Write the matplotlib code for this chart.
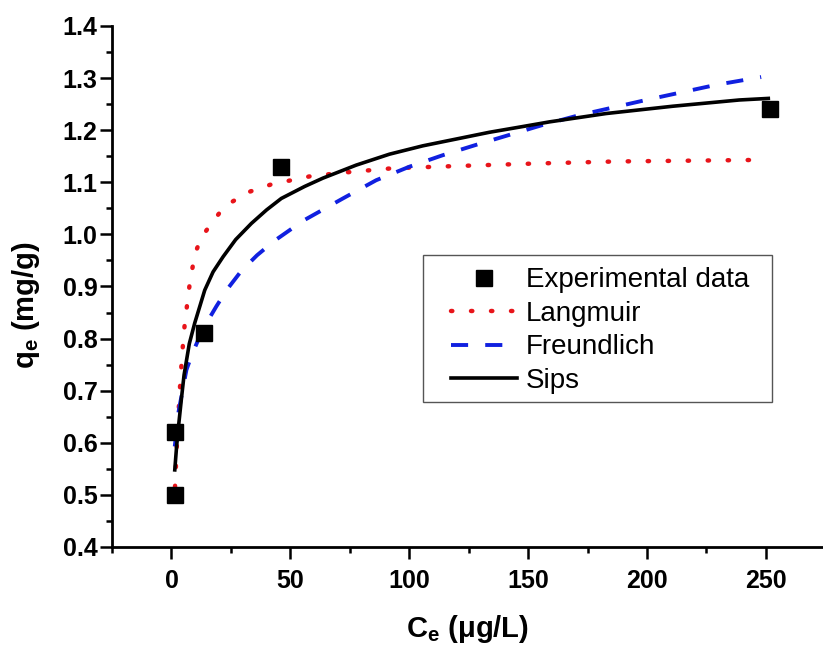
import matplotlib
matplotlib.use("Agg")
import matplotlib.pyplot as plt
from matplotlib.ticker import MultipleLocator, FormatStrFormatter
from matplotlib.patches import Rectangle

plt.rcParams['font.family'] = ['Liberation Sans', 'DejaVu Sans']
plt.rcParams['mathtext.fontset'] = 'custom'
plt.rcParams['mathtext.rm'] = 'Liberation Sans'
plt.rcParams['mathtext.bf'] = 'Liberation Sans:bold'
plt.rcParams['mathtext.it'] = 'Liberation Sans:italic'

# Experimental data
exp_ce = [1.4, 1.7, 13.7, 46.2, 251.8]
exp_qe = [0.50, 0.62, 0.81, 1.13, 1.24]

# Langmuir fit curve
lang_ce = [1.5, 2.5, 3.5, 4.5, 5.6, 7.7, 9.0, 10.5, 12.0, 13.5, 16.8, 20.0, 24.5, 32.9, 42.0,
           50.4, 58.8, 75.6, 93.1, 118.3, 152.6, 187.0, 248.0]
lang_qe = [0.515, 0.62, 0.70, 0.77, 0.829, 0.906, 0.940, 0.970, 0.987, 1.000, 1.021, 1.040,
           1.060, 1.082, 1.096, 1.104, 1.112, 1.120, 1.127, 1.131, 1.136, 1.140, 1.143]

# Freundlich fit curve
freu_ce = [1.4, 3.0, 6.3, 8.5, 11.2, 14.5, 18.9, 23.5, 29.4, 36.0, 43.4, 55.3, 72.1, 86.1,
           100.1, 114.1, 128.2, 142.1, 156.1, 171.6, 199.6, 229.0, 248.0]
freu_qe = [0.593, 0.66, 0.740, 0.768, 0.797, 0.828, 0.862, 0.895, 0.930, 0.960, 0.988, 1.026,
           1.069, 1.104, 1.130, 1.152, 1.172, 1.191, 1.210, 1.229, 1.258, 1.287, 1.302]

# Sips fit curve
sips_ce = [1.4, 2.2, 3.1, 4.2, 5.3, 7.5, 9.8, 14.0, 17.5, 21.7, 27.0, 33.6, 40.0, 46.2, 56.0,
           63.7, 77.7, 91.7, 105.7, 119.7, 133.7, 147.7, 159.0, 182.8, 210.8, 238.8, 251.0]
sips_qe = [0.548, 0.595, 0.637, 0.685, 0.730, 0.790, 0.830, 0.893, 0.928, 0.957, 0.990, 1.021,
           1.047, 1.069, 1.092, 1.108, 1.133, 1.154, 1.170, 1.183, 1.196, 1.207, 1.216, 1.232,
           1.246, 1.258, 1.261]

fig = plt.figure(figsize=(8.23, 6.5), dpi=100)
ax = fig.add_axes([112/823, 103/650, 1 - 112/823, 521/650])

ax.plot(lang_ce, lang_qe, color='#e8141a', lw=3.2, linestyle=(0, (0.3, 4.2)),
        dash_capstyle='round', label='Langmuir', zorder=3)
ax.plot(freu_ce, freu_qe, color='#1020e0', lw=2.8, linestyle=(0, (4.4, 4.4)),
        label='Freundlich', zorder=3)
ax.plot(sips_ce, sips_qe, color='black', lw=2.6, label='Sips', zorder=4)
ax.plot(exp_ce, exp_qe, linestyle='none', marker='s', markersize=11, color='black',
        label='Experimental data', zorder=5)

ax.set_xlim(-25, 274)
ax.set_ylim(0.4, 1.4)
ax.xaxis.set_major_locator(MultipleLocator(50))
ax.xaxis.set_minor_locator(MultipleLocator(25))
ax.yaxis.set_major_locator(MultipleLocator(0.1))
ax.yaxis.set_minor_locator(MultipleLocator(0.05))
ax.yaxis.set_major_formatter(FormatStrFormatter('%.1f'))

for s in ['top', 'right']:
    ax.spines[s].set_visible(False)
for s in ['left', 'bottom']:
    ax.spines[s].set_linewidth(2.0)

ax.tick_params(axis='both', which='major', direction='out', width=1.8, length=8.5,
               labelsize=18)
ax.tick_params(axis='both', which='minor', direction='out', width=1.8, length=4.5)
ax.tick_params(axis='x', which='major', pad=7)
ax.tick_params(axis='y', which='major', pad=2)
for lab in ax.get_xticklabels() + ax.get_yticklabels():
    lab.set_fontweight('bold')

ax.set_xlabel(r'$\mathbf{C_e}$ (μg/L)', fontsize=21, fontweight='bold', labelpad=15)
ax.set_ylabel(r'$\mathbf{q_e}$ (mg/g)', fontsize=21, fontweight='bold')
ax.yaxis.set_label_coords(-0.098, 0.464)

# Legend frame drawn as a plain rectangle, entries without frame
ax.add_patch(Rectangle((0.437, 0.278), 0.491, 0.282, transform=ax.transAxes,
                       facecolor='white', edgecolor='#555555', lw=1.0, zorder=6))
handles, labels = ax.get_legend_handles_labels()
order = [3, 0, 1, 2]
leg = ax.legend([handles[i] for i in order], [labels[i] for i in order],
                loc='center', bbox_to_anchor=(0.686, 0.4155), fontsize=20,
                frameon=False, handlelength=2.4, handletextpad=0.3,
                labelspacing=0.27, borderpad=0.0)
leg.set_zorder(7)

fig.savefig('out.png', dpi=100)
